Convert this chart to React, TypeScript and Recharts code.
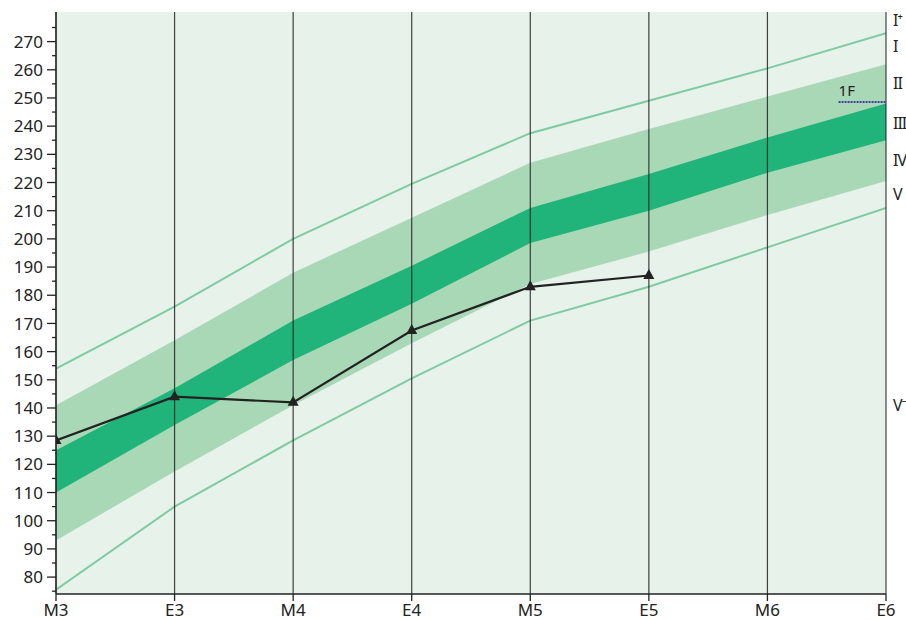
import React from 'react';
import { ComposedChart, Area, Line, XAxis, YAxis, ReferenceLine, ReferenceDot } from 'recharts';

const categories = ['M3', 'E3', 'M4', 'E4', 'M5', 'E5', 'M6', 'E6'];
const upperLine = [154, 176, 200, 219.5, 237.5, 249, 260.5, 273];
const lightHigh = [141, 164, 188, 207.5, 227, 239, 250.5, 262];
const darkHigh = [125, 147, 171, 190.5, 211, 223, 236, 248];
const darkLow = [110, 134, 157, 177, 198.5, 210, 223.5, 235];
const lightLow = [93, 117.5, 141, 163, 184, 195.5, 208.5, 220.5];
const lowerLine = [75.5, 105, 128.5, 150.5, 171, 183, 197, 211];
const childScores: (number | null)[] = [128.5, 144, 142, 167.5, 183, 187, null, null];

const yTicks = [75, 80, 85, 90, 95, 100, 105, 110, 115, 120, 125, 130, 135, 140, 145, 150, 155, 160, 165, 170, 175, 180, 185, 190, 195, 200, 205, 210, 215, 220, 225, 230, 235, 240, 245, 250, 255, 260, 265, 270, 275];
const xTicks = [0, 1, 2, 3, 4, 5, 6, 7];

const levelLabels = ['I⁺', 'I', 'II', 'III', 'IV', 'V', 'V⁻'];
const levelValues = [277.7, 268.4, 255.3, 241.1, 228, 215.9, 141];

const norm1FValue = 248.6;
const norm1FStart = 6.6;

const data = categories.map((c, i) => ({
  x: i,
  cat: c,
  upper: upperLine[i],
  lower: lowerLine[i],
  light: [lightLow[i], lightHigh[i]],
  dark: [darkLow[i], darkHigh[i]],
  score: childScores[i],
}));

const FONT = '"Noto Sans", "Open Sans", sans-serif';

const YTick = (props: any) => {
  const { x, y, payload } = props;
  const v = payload.value;
  const major = v % 10 === 0;
  return (
    <g>
      <line x1={x - (major ? 9 : 4)} x2={x} y1={y} y2={y} stroke="#222" strokeWidth={1.3} />
      {major && (
        <text x={x - 13} y={y} dy="0.36em" textAnchor="end" fontSize={17} fontFamily={FONT} fill="#222">
          {v}
        </text>
      )}
    </g>
  );
};

const RightTick = (props: any) => {
  const { x, y, index } = props;
  return (
    <text x={x} y={y} dy="0.36em" textAnchor="start" fontSize={16} letterSpacing={-1} fontFamily={FONT} fill="#222">
      {levelLabels[index]}
    </text>
  );
};

const Triangle = (props: any) => {
  const { cx, cy, payload } = props;
  if (cx == null || cy == null || payload.score == null) return <g />;
  return <path d={`M${cx},${cy - 6.5} L${cx + 5.5},${cy + 3.5} L${cx - 5.5},${cy + 3.5} Z`} fill="#222" />;
};

const label1F = (p: any) => {
  const vb = p.viewBox || {};
  return (
    <text x={vb.x ?? 0} y={(vb.y ?? 0) - 6} fontSize={15} fontFamily={FONT} fill="#222">
      1F
    </text>
  );
};

export default function App() {
  return (
    <div style={{ position: 'absolute', left: 0, top: 0, width: 906, height: 620, background: '#fff' }}>
      <ComposedChart width={906} height={620} data={data} margin={{ top: 12, right: 0, bottom: 0, left: 0 }}>
        <XAxis
          dataKey="x"
          type="number"
          domain={[0, 7]}
          ticks={xTicks}
          tickFormatter={(i: number) => categories[i]}
          height={26}
          axisLine={{ stroke: '#222', strokeWidth: 1.3 }}
          tickLine={{ stroke: '#222', strokeWidth: 1.3 }}
          tickSize={7}
          tickMargin={3}
          tick={{ fontSize: 17, fontFamily: FONT, fill: '#222' }}
          allowDataOverflow
        />
        <YAxis
          type="number"
          domain={[74, 280.5]}
          ticks={yTicks}
          width={56}
          axisLine={{ stroke: '#222', strokeWidth: 1.3 }}
          tickLine={false}
          tickSize={0}
          tickMargin={0}
          tick={<YTick />}
          interval={0}
          allowDataOverflow
        />
        <YAxis
          yAxisId="levels"
          orientation="right"
          type="number"
          domain={[74, 280.5]}
          ticks={levelValues}
          width={20}
          axisLine={false}
          tickLine={false}
          tickSize={0}
          tickMargin={7}
          tick={<RightTick />}
          interval={0}
          allowDataOverflow
        />
        <Area
          dataKey={() => [74, 280.5]}
          stroke="none"
          fill="#e6f2ea"
          fillOpacity={1}
          isAnimationActive={false}
          activeDot={false}
        />
        <Area dataKey="light" stroke="none" fill="#a9d8b7" fillOpacity={1} isAnimationActive={false} activeDot={false} />
        <Area dataKey="dark" stroke="none" fill="#21b47a" fillOpacity={1} isAnimationActive={false} activeDot={false} />
        <Line dataKey="upper" stroke="#7ecba2" strokeWidth={2} dot={false} isAnimationActive={false} activeDot={false} />
        <Line dataKey="lower" stroke="#7ecba2" strokeWidth={2} dot={false} isAnimationActive={false} activeDot={false} />
        {xTicks.map((t) => (
          <ReferenceLine key={t} x={t} stroke="#222" strokeWidth={1.2} strokeOpacity={0.85} />
        ))}
        <ReferenceLine
          segment={[{ x: norm1FStart, y: norm1FValue }, { x: 7, y: norm1FValue }]}
          stroke="#3b3fa8"
          strokeWidth={2}
          strokeDasharray="2 1"
        />
        <ReferenceDot x={norm1FStart} y={norm1FValue} r={0} stroke="none" label={label1F} />
        <Line
          dataKey="score"
          stroke="#222"
          strokeWidth={2.2}
          dot={<Triangle />}
          connectNulls={false}
          isAnimationActive={false}
          activeDot={false}
        />
      </ComposedChart>
    </div>
  );
}
